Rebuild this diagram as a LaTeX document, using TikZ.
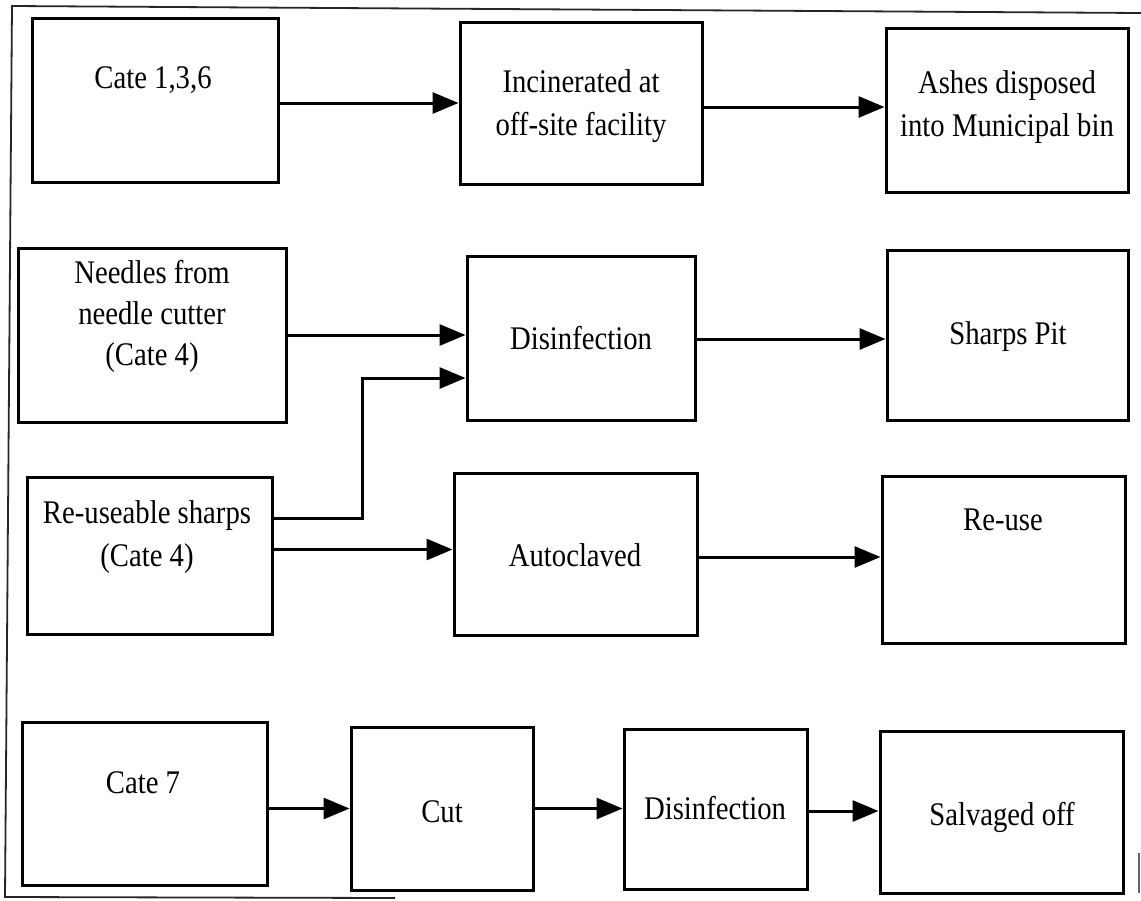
\documentclass[tikz,border=0pt]{standalone}
\usepackage{fontspec}
\setmainfont{Liberation Serif}[FakeStretch=0.87]
\usetikzlibrary{arrows.meta}
\begin{document}
\begin{tikzpicture}[x=1pt,y=-1pt,
  box/.style={draw=black,line width=3pt,inner sep=0pt,rectangle},
  lbl/.style={font=\fontsize{33}{43}\selectfont,align=center,inner sep=0pt},
  arr/.style={line width=3pt,-{Triangle[length=26pt,width=21pt]}},
  rule/.style={draw=black!85,line width=1.8pt}]
\useasboundingbox (0,0) rectangle (1141,900);
% outer frame
\draw[rule] (1141,13) -- (12,6) -- (5,897) -- (395,898);
\draw[draw=black!60,line width=2pt] (1139,853) -- (1139,893);

% row 1: categories 1, 3, 6
\node[box,minimum width=246pt,minimum height=164pt] (c136) at (155,100) {};
\node[box,minimum width=242pt,minimum height=162pt] (incin) at (581,103) {};
\node[box,minimum width=242pt,minimum height=164pt] (ashes) at (1007,110) {};
\node[lbl] (t136) at (153,80) {Cate 1,3,6};
\node[lbl] (tincin) at (581,106) {Incinerated at\\off-site facility};
\node[lbl] (tashes) at (1007,107) {Ashes disposed\\into Municipal bin};
\draw[arr] (c136.east |- incin.west) -- (incin.west);
\draw[arr] ([yshift=-4pt]incin.east) -- ([yshift=-4pt]incin.east -| ashes.west);

% row 2: needles from the needle cutter
\node[box,minimum width=268pt,minimum height=174pt] (needles) at (152,335) {};
\node[box,minimum width=228pt,minimum height=164pt] (disinf) at (581,338) {};
\node[box,minimum width=241pt,minimum height=170pt] (sharps) at (1007.5,335) {};
\node[lbl,font=\fontsize{33}{41}\selectfont] (tneedles) at (152,316) {Needles from\\needle cutter\\(Cate 4)};
\node[lbl] (tdisinf) at (581,338) {Disinfection};
\node[lbl] (tsharps) at (1008,337) {Sharps Pit};
\draw[arr] (needles.east) -- (needles.east -| disinf.west);
\draw[arr] ([yshift=-1pt]disinf.east) -- ([yshift=-1pt]disinf.east -| sharps.west);

% row 3: re-useable sharps
\node[box,minimum width=245pt,minimum height=157pt] (rsharps) at (149.5,555.5) {};
\node[box,minimum width=243pt,minimum height=162pt] (autoc) at (575.5,554) {};
\node[box,minimum width=243pt,minimum height=167pt] (reuse) at (1003.5,559.5) {};
\node[lbl] (trsharps) at (147,537) {Re-useable sharps\\(Cate 4)};
\node[lbl] (tautoc) at (575,555) {Autoclaved};
\node[lbl] (treuse) at (1003,520) {Re-use};
\draw[arr] ([yshift=37pt]rsharps.east) -- ++(89,0) |- ([yshift=-40pt]disinf.west);
\draw[arr] ([yshift=6pt]rsharps.east) -- ([yshift=6pt]rsharps.east -| autoc.west);
\draw[arr] ([yshift=-3pt]autoc.east) -- ([yshift=-3pt]autoc.east -| reuse.west);

% row 4: category 7
\node[box,minimum width=245pt,minimum height=163pt] (cate7) at (144.5,803.5) {};
\node[box,minimum width=182pt,minimum height=163pt] (cut) at (442,808.5) {};
\node[box,minimum width=183pt,minimum height=160pt] (dis2) at (715.5,809) {};
\node[box,minimum width=243pt,minimum height=162pt] (salv) at (1001.5,812) {};
\node[lbl] (tcate7) at (143,783) {Cate 7};
\node[lbl] (tcut) at (442,812) {Cut};
\node[lbl] (tdis2) at (715,808) {Disinfection};
\node[lbl] (tsalv) at (1002,817) {Salvaged off};
\draw[arr] (cate7.east |- cut.west) -- (cut.west);
\draw[arr] (cut.east) -- (cut.east -| dis2.west);
\draw[arr] ([yshift=-2pt]dis2.east) -- ([yshift=-2pt]dis2.east -| salv.west);
\end{tikzpicture}
\end{document}
